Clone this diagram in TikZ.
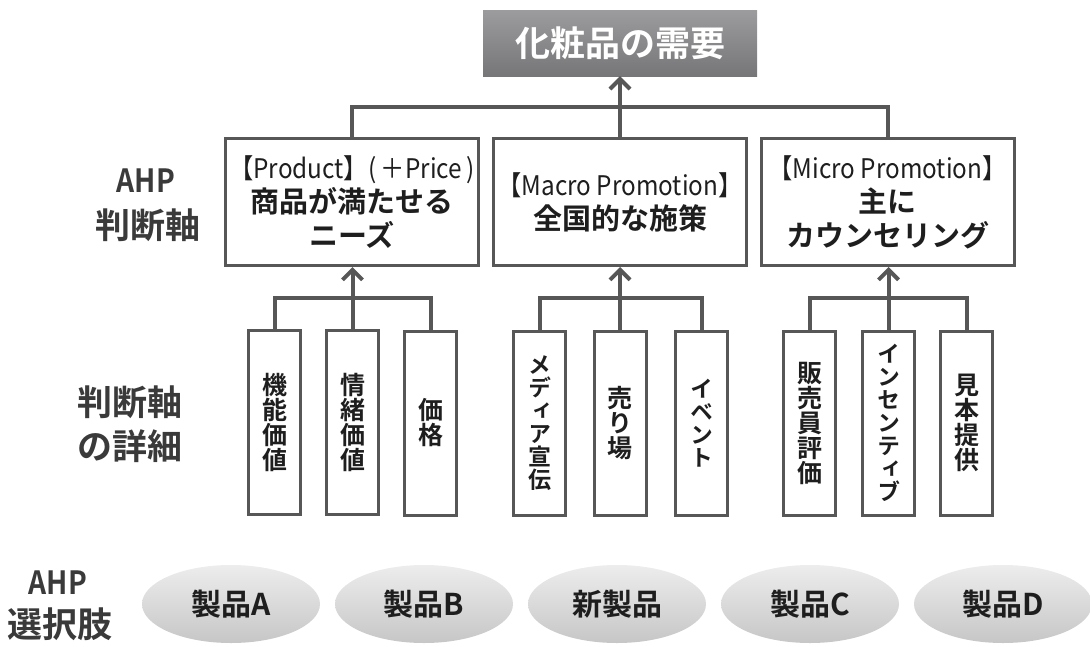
\documentclass[tikz,border=0pt]{standalone}
\usepackage{fontspec}
\usetikzlibrary{arrows.meta,shapes.geometric}
\setmainfont{Noto Sans CJK JP}
\newfontfamily\jpb{Noto Sans CJK JP Bold}
\newfontfamily\jpv[RawFeature=+vert]{Noto Sans CJK JP Bold}
\newfontfamily\latr[FakeStretch=0.9]{Noto Sans CJK JP}
\newfontfamily\latb[FakeStretch=0.88]{Noto Sans CJK JP Bold}
\definecolor{linec}{HTML}{575757}
\definecolor{labc}{HTML}{3A3A3A}
\definecolor{txt}{HTML}{1E1E1E}
\definecolor{topA}{HTML}{9C9C9E}
\definecolor{topB}{HTML}{767678}
\definecolor{ellA}{HTML}{EDEDED}
\definecolor{ellB}{HTML}{C6C6C6}
\begin{document}
\begin{tikzpicture}[x=1pt,y=-1pt,
  conn/.style={draw=linec, line width=4pt},
  arr/.style={conn, -{Straight Barb[length=10pt,width=20pt]}},
  topbox/.style={minimum width=274pt, minimum height=66pt, inner sep=0pt,
    top color=topA, bottom color=topB, text=white, font=\jpb\fontsize{35}{40}\selectfont},
  lvl2/.style={draw=linec, line width=3pt, fill=white, minimum width=253pt,
    minimum height=127pt, inner sep=0pt, align=center, text=txt,
    font=\jpb\fontsize{29}{34}\selectfont},
  vbox/.style={draw=linec, line width=3pt, fill=white, minimum width=52pt,
    minimum height=184pt, inner sep=0pt, align=center, text=txt,
    font=\jpv\fontsize{25}{25}\selectfont},
  vkana/.style={vbox, font=\jpv\fontsize{23}{23}\selectfont},
  prod/.style={ellipse, minimum width=178pt, minimum height=78pt, inner sep=0pt,
    top color=ellA, bottom color=ellB, text=txt, font=\jpb\fontsize{30}{34}\selectfont},
  sidelab/.style={text=labc, inner sep=0pt, font=\jpb\fontsize{35}{40}\selectfont},
  sidelat/.style={text=labc, inner sep=0pt, font=\latb\fontsize{32}{36}\selectfont}
]
\useasboundingbox (0,0) rectangle (1090,646);

% top
\node[topbox] (top) at (620,43) {化粧品の需要};

% level 2
\node[lvl2] (L1) at (352,202) {{\latr\fontsize{27}{35}\selectfont 【Product】(\,＋Price\,)}\\商品が満たせる\\ニーズ};
\node[lvl2] (L2) at (620,202) {{\latr\fontsize{27}{35}\selectfont 【Macro Promotion】}\\全国的な施策};
\node[lvl2] (L3) at (887.5,202) {{\latr\fontsize{27}{35}\selectfont 【Micro Promotion】}\\主に\\カウンセリング};

\coordinate (jt) at (620,107);
\draw[conn] (L1.north) |- (jt) -| (L3.north);
\draw[arr] (L2.north) -- (top.south);

% detail boxes
\node[vbox] (a1) at (274.5,422) {機\\能\\価\\値};
\node[vbox] (a2) at (352.5,422) {情\\緒\\価\\値};
\node[vbox] (a3) at (430.5,423) {価\\格};
\node[vkana] (b1) at (539.5,423) {メ\\デ\\ィ\\ア\\宣\\伝};
\node[vbox] (b2) at (620,423) {売\\り\\場};
\node[vkana] (b3) at (701.5,423) {イ\\ベ\\ン\\ト};
\node[vbox] (c1) at (809.5,423) {販\\売\\員\\評\\価};
\node[vkana] (c2) at (888.5,423) {イ\\ン\\セ\\ン\\テ\\ィ\\ブ};
\node[vbox] (c3) at (966.5,423) {見\\本\\提\\供};

\coordinate (j1) at (352.5,298);
\coordinate (j2) at (620,298);
\coordinate (j3) at (888.5,298);
\draw[conn] (a1.north) |- (j1) -| (a3.north);
\draw[conn] (b1.north) |- (j2) -| (b3.north);
\draw[conn] (c1.north) |- (j3) -| (c3.north);
\draw[arr] (a2.north) -- (a2.north |- L1.south);
\draw[arr] (b2.north) -- (L2.south);
\draw[arr] (c2.north) -- (c2.north |- L3.south);

% side labels
\node[sidelat] (ahp1) at (146,181) {AHP};
\node[sidelab] (hd1) at (148,225) {判断軸};
\node[sidelab] (hd2) at (130,402) {判断軸};
\node[sidelab] (hd3) at (130,446) {の詳細};
\node[sidelat] (ahp2) at (58,583) {AHP};
\node[sidelab] (sel) at (60,624) {選択肢};

% products
\node[prod] (pA) at (231,604) {製品A};
\node[prod] (pB) at (424,604) {製品B};
\node[prod] (pN) at (617,604) {新製品};
\node[prod] (pC) at (810,604) {製品C};
\node[prod] (pD) at (1003,604) {製品D};
\end{tikzpicture}
\end{document}
